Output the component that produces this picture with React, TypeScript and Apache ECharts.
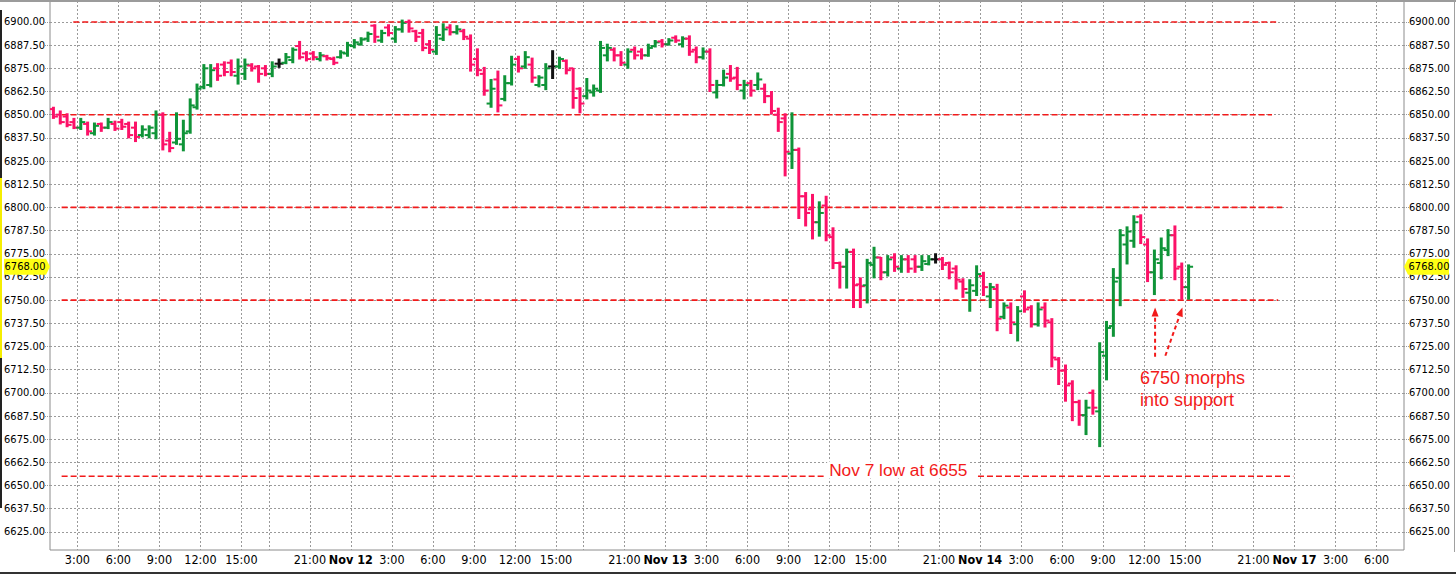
import React, { useEffect, useRef } from 'react';
import * as echarts from 'echarts';

// ---------- DATA: 30-minute OHLC bars, [open, high, low, close] ----------
// Session 1: Nov 11 01:00 – 16:30
const barsNov11 = [
  [6853, 6854, 6848, 6849], [6850, 6852, 6845, 6846], [6849, 6850.5, 6843.5, 6844.5], [6846, 6848, 6842.5, 6843],
  [6843, 6848, 6842, 6846], [6845, 6846, 6839, 6841], [6840, 6845.5, 6839, 6844], [6845, 6845.5, 6841, 6843],
  [6843, 6848, 6842.5, 6846], [6845, 6846.5, 6841.5, 6842.5], [6846, 6847.5, 6842, 6843.5], [6845, 6846, 6837.5, 6839],
  [6843, 6846, 6835.5, 6838], [6839, 6844, 6838, 6842], [6839, 6844, 6837.5, 6843], [6840, 6852, 6837, 6850],
  [6850, 6851, 6831, 6834], [6836, 6840.5, 6830, 6832], [6835, 6851, 6834, 6837], [6834, 6847, 6830.5, 6840],
  [6841, 6858.5, 6840, 6855], [6854, 6866.5, 6853, 6864], [6865, 6877, 6864, 6875], [6866, 6877, 6865, 6874],
  [6875, 6877.5, 6868.5, 6871], [6877, 6878.5, 6871, 6873], [6878, 6879.5, 6871, 6873], [6871, 6880, 6866.5, 6876],
  [6872, 6880, 6869, 6877], [6876.5, 6877.5, 6873.5, 6875], [6876, 6876.5, 6867.5, 6872], [6875, 6876.5, 6871, 6872],
];
// Session 2: Nov 11 18:00 – Nov 12 16:30
const barsNov12 = [
  [6872, 6878.5, 6870.5, 6876], [6877.5, 6880, 6875.5, 6877.5], [6878, 6883, 6877.5, 6881], [6879.5, 6886, 6878, 6885],
  [6887, 6889.5, 6880, 6881], [6883, 6884, 6879, 6880], [6883, 6884, 6879.5, 6881], [6880, 6883.5, 6879, 6882],
  [6881.5, 6882, 6879.5, 6880.5], [6880, 6881, 6877, 6878], [6881, 6884.5, 6880.5, 6883.5], [6883, 6889, 6881.5, 6887.5],
  [6887, 6890.5, 6886, 6889], [6888, 6891.5, 6887.5, 6890.5], [6891, 6894.5, 6889.5, 6893.5], [6898, 6898.5, 6889, 6892],
  [6890, 6895.5, 6889, 6894], [6897, 6898.5, 6892.5, 6894], [6891, 6897.5, 6889, 6896], [6896, 6901, 6894.5, 6899.5],
  [6900, 6901, 6894.5, 6896.5], [6895, 6895.5, 6889.5, 6892], [6894, 6896, 6884.5, 6886], [6888, 6890, 6883, 6885],
  [6884, 6897.5, 6882.5, 6893], [6891, 6899, 6890, 6896], [6897, 6898.5, 6893, 6894.5], [6894.5, 6898, 6893.5, 6896],
  [6895, 6896, 6890.5, 6892], [6891, 6893, 6873.5, 6877], [6880, 6885.5, 6871, 6874], [6872, 6875.5, 6860.5, 6863],
  [6856, 6869, 6854, 6864], [6869, 6873.5, 6851.5, 6855], [6858.5, 6871, 6857.5, 6867], [6867, 6881.5, 6866, 6877],
  [6880, 6881.5, 6873, 6875], [6876, 6884, 6875, 6881], [6877, 6880.5, 6867.5, 6870], [6866, 6871, 6865, 6870],
  [6866, 6877.5, 6863.5, 6875], [6876, 6884.5, 6869.5, 6876], [6876, 6881, 6875, 6880], [6879, 6879.5, 6872, 6874],
  [6875, 6875, 6853.5, 6859], [6864, 6864.5, 6851, 6856],
];
// Session 3: Nov 12 18:00 – Nov 13 16:30
const barsNov13 = [
  [6860, 6869.5, 6858.5, 6863], [6862, 6866, 6860, 6864], [6863, 6889.5, 6862, 6886], [6882, 6888, 6879, 6886],
  [6885, 6886, 6879, 6882], [6882, 6884, 6876.5, 6878], [6877, 6885.5, 6875, 6884], [6885, 6886.5, 6880, 6882],
  [6884, 6885.5, 6880, 6882], [6882, 6888, 6881.5, 6886], [6887, 6890, 6886.5, 6889], [6889.5, 6890.5, 6886.5, 6888],
  [6888, 6891, 6887.5, 6890], [6891.5, 6892.5, 6889, 6890], [6888, 6892, 6886.5, 6891], [6891, 6892.5, 6882, 6884],
  [6885, 6886.5, 6878, 6881], [6881, 6886, 6880, 6884], [6884, 6885.5, 6862.5, 6866], [6862, 6868.5, 6859, 6866],
  [6866, 6874, 6865.5, 6870], [6872, 6876.5, 6868, 6869.5], [6870, 6875.5, 6863.5, 6866], [6863, 6868.5, 6858.5, 6866],
  [6867, 6868.5, 6860, 6863], [6866, 6872.5, 6863.5, 6869], [6864, 6866.5, 6856.5, 6860], [6860, 6862.5, 6850.5, 6852],
  [6850, 6853.5, 6841, 6846], [6848, 6850.5, 6817, 6830], [6829, 6851, 6821, 6831], [6831, 6832, 6794, 6806],
  [6806, 6808, 6790, 6797], [6799, 6807, 6783, 6792], [6792, 6803, 6784.5, 6797], [6801, 6806, 6782, 6785],
  [6784, 6789, 6767, 6770], [6770, 6770.5, 6756.5, 6768], [6768, 6777.5, 6756.5, 6776], [6776, 6777.5, 6746, 6758],
  [6758.5, 6762, 6746, 6757.5], [6758, 6772, 6748.5, 6770], [6769, 6778.5, 6762, 6773], [6773, 6773, 6761, 6765],
  [6765, 6774, 6763, 6772], [6773, 6775, 6765.5, 6768],
];
// Session 4: Nov 13 18:00 – Nov 14 15:00
const barsNov14 = [
  [6767, 6774, 6765, 6772], [6772, 6774, 6765, 6767], [6772, 6774, 6765, 6768], [6768, 6774, 6766, 6771],
  [6769.5, 6774, 6769, 6772], [6772, 6775, 6770, 6772], [6772, 6773, 6766.5, 6769], [6770, 6770.5, 6761.5, 6765],
  [6767, 6768.5, 6756, 6761], [6760, 6761.5, 6751.5, 6756], [6754, 6761, 6744, 6758], [6755, 6768.5, 6752.5, 6764],
  [6763, 6765, 6752.5, 6757], [6752, 6759, 6746, 6757], [6756, 6758.5, 6733.5, 6740], [6741, 6748.5, 6740, 6747],
  [6746, 6748.5, 6732, 6738], [6737, 6746.5, 6728, 6744], [6752, 6755, 6743.5, 6745], [6746, 6747, 6735.5, 6737],
  [6737, 6748.5, 6736, 6745], [6746, 6748.5, 6735.5, 6739], [6738, 6740, 6714, 6719], [6718, 6719, 6704.5, 6712],
  [6712, 6715, 6695.5, 6704], [6705, 6706.5, 6685, 6695], [6695, 6696, 6682.5, 6688], [6688, 6696, 6677.5, 6692],
  [6700, 6701.5, 6688.5, 6692], [6690, 6727, 6671, 6722], [6720, 6738.5, 6707, 6735], [6736, 6767, 6730.5, 6760],
  [6762, 6788, 6747, 6785], [6780, 6789.5, 6769.5, 6787], [6782, 6795.5, 6778.5, 6792], [6795, 6796, 6780.5, 6784],
  [6780, 6783, 6760, 6765], [6765, 6777, 6753, 6772], [6770, 6783.5, 6761.5, 6778], [6777, 6788, 6774, 6785],
  [6785, 6790, 6761, 6767], [6768, 6770, 6750.5, 6757], [6757, 6769, 6750.5, 6768],
];

const sessionDates = ['Nov 11', 'Nov 12', 'Nov 13', 'Nov 14', 'Nov 17'];
const priceTicks = [
  6625, 6637.5, 6650, 6662.5, 6675, 6687.5, 6700, 6712.5, 6725, 6737.5, 6750, 6762.5,
  6775, 6787.5, 6800, 6812.5, 6825, 6837.5, 6850, 6862.5, 6875, 6887.5, 6900,
];
const lastPrice = 6768;
const levelPrices = [6900, 6850, 6800, 6750, 6655];
const annotationTexts = ['Nov 7 low at 6655', '6750 morphs', 'into support'];

// ---------- layout / style ----------
const SLOTS_PER_SESSION = 46; // 18:00 -> 17:00, 30-minute slots
const FIRST_SLOT = 14; // first visible slot = 01:00 of the first session
const AXIS_MIN = 0;
const AXIS_MAX = 198;
const Y_MIN = 6615.25;
const Y_MAX = 6911.3;
const GREEN = '#0f9438';
const PINK = '#fc1268';
const RED = '#f21a1a';
const GRID_GREY = '#9a9a9a';
const AXIS_FONT = '"DejaVu Sans Condensed", "DejaVu Sans", sans-serif';
const TIME_FONT = '"Liberation Sans Narrow", "DejaVu Sans Condensed", sans-serif';
const NOTE_FONT = '"Liberation Sans", Arial, sans-serif';

// level line extents along the slot axis (level index, from, to); 6655 has two pieces
const levelExtents: [number, number, number][] = [
  [0, 3.4, 179.3],
  [1, 1.7, 178.7],
  [2, 1.7, 180.2],
  [3, 1.7, 179.6],
  [4, 1.7, 113.3],
  [4, 135.7, 181.8],
];
// text anchors [slot, price, align]
const textAnchors: [number, number, string][] = [
  [124.05, 6658.4, 'center'],
  [159.4, 6707.8, 'left'],
  [159.4, 6696.1, 'left'],
];
// arrows [x1, y1, x2, y2] in axis units
const arrows = [
  [161.6, 6719.5, 161.6, 6746],
  [163.1, 6720, 165.6, 6746],
];

export default function App() {
  const ref = useRef<HTMLDivElement>(null);

  useEffect(() => {
    if (!ref.current) return;
    const chart = echarts.init(ref.current, null, { renderer: 'svg' });

    const bars = [...barsNov11, ...barsNov12, ...barsNov13, ...barsNov14].map((b, i) => [
      i + 0.5, b[0], b[1], b[2], b[3],
    ]);

    const tickSlots: number[] = [];
    const labelSlots: number[] = [];
    const labelText = new Map<number, string>();
    sessionDates.forEach((date, d) => {
      for (let s = 0; s < SLOTS_PER_SESSION; s += 6) {
        const v = d * SLOTS_PER_SESSION + s - FIRST_SLOT;
        if (v < AXIS_MIN || v > AXIS_MAX) continue;
        tickSlots.push(v);
        const hour = (18 + s / 2) % 24;
        if (hour === 18) continue;
        labelSlots.push(v);
        labelText.set(v, hour === 0 ? `{d|${date}}` : `${hour}:00`);
      }
    });

    const levelData = levelExtents.map(([li, from, to]) => [from, to, levelPrices[li]]);
    const textData = textAnchors.map(([x, y]) => [x, y]);

    const yAxisCommon = {
      type: 'value',
      min: Y_MIN,
      max: Y_MAX,
      axisLine: { show: false },
      axisTick: {
        show: true,
        length: 5,
        customValues: priceTicks,
        lineStyle: { color: GRID_GREY, type: [1, 1] },
      },
    };
    const yLabel = {
      customValues: priceTicks,
      margin: 5,
      fontFamily: AXIS_FONT,
      fontSize: 11,
      color: '#000',
      formatter: (v: number) => v.toFixed(2),
    };

    const option: any = {
      animation: false,
      backgroundColor: '#ffffff',
      grid: {
        left: 50,
        top: 1,
        width: 1354,
        height: 549,
        show: true,
        borderColor: '#8c8c8c',
        borderWidth: 1,
        backgroundColor: '#ffffff',
      },
      xAxis: {
        type: 'value',
        min: AXIS_MIN,
        max: AXIS_MAX,
        axisLine: { show: false },
        axisTick: { show: false, customValues: tickSlots },
        axisLabel: {
          customValues: labelSlots,
          margin: 3,
          fontFamily: TIME_FONT,
          fontSize: 12.5,
          color: '#000',
          formatter: (v: number) => labelText.get(Math.round(v)) ?? '',
          rich: {
            d: { fontFamily: TIME_FONT, fontSize: 12.5, fontWeight: 'bold', color: '#000' },
          },
        },
        splitLine: { show: true, lineStyle: { color: GRID_GREY, width: 1, type: [2, 2] } },
      },
      yAxis: [
        {
          ...yAxisCommon,
          position: 'left',
          axisLabel: yLabel,
          splitLine: { show: true, lineStyle: { color: GRID_GREY, width: 1, type: [2, 2] } },
        },
        {
          ...yAxisCommon,
          position: 'right',
          axisLabel: yLabel,
          splitLine: { show: false },
        },
      ],
      series: [
        {
          type: 'custom',
          name: 'levels',
          data: levelData,
          encode: { x: [0, 1], y: 2 },
          clip: false,
          z: 3,
          silent: true,
          renderItem: (_p: any, api: any) => {
            const a = api.coord([api.value(0), api.value(2)]);
            const b = api.coord([api.value(1), api.value(2)]);
            return {
              type: 'line',
              shape: { x1: a[0], y1: a[1], x2: b[0], y2: b[1] },
              style: { stroke: RED, lineWidth: 1.6, lineDash: [6, 3] },
            };
          },
        },
        {
          type: 'custom',
          name: 'ES',
          data: bars,
          encode: { x: 0, y: [1, 2, 3, 4] },
          clip: true,
          z: 4,
          renderItem: (_p: any, api: any) => {
            const x = api.value(0);
            const o = api.value(1);
            const h = api.value(2);
            const l = api.value(3);
            const c = api.value(4);
            const pH = api.coord([x, h]);
            const pL = api.coord([x, l]);
            const pO = api.coord([x, o]);
            const pC = api.coord([x, c]);
            const color = c > o ? GREEN : c < o ? PINK : '#111111';
            return {
              type: 'group',
              children: [
                {
                  type: 'line',
                  shape: { x1: pH[0], y1: pH[1] - 0.5, x2: pL[0], y2: pL[1] + 0.5 },
                  style: { stroke: color, lineWidth: 3 },
                },
                {
                  type: 'line',
                  shape: { x1: pO[0] - 4.5, y1: pO[1], x2: pO[0], y2: pO[1] },
                  style: { stroke: color, lineWidth: 2 },
                },
                {
                  type: 'line',
                  shape: { x1: pC[0], y1: pC[1], x2: pC[0] + 4.5, y2: pC[1] },
                  style: { stroke: color, lineWidth: 2 },
                },
              ],
            };
          },
        },
        {
          type: 'custom',
          name: 'arrows',
          data: arrows,
          encode: { x: [0, 2], y: [1, 3] },
          clip: false,
          z: 5,
          silent: true,
          renderItem: (_p: any, api: any) => {
            const s = api.coord([api.value(0), api.value(1)]);
            const t = api.coord([api.value(2), api.value(3)]);
            const dx = t[0] - s[0];
            const dy = t[1] - s[1];
            const len = Math.sqrt(dx * dx + dy * dy);
            const ux = dx / len;
            const uy = dy / len;
            const bx = t[0] - ux * 9;
            const by = t[1] - uy * 9;
            const nx = -uy * 3.5;
            const ny = ux * 3.5;
            return {
              type: 'group',
              children: [
                {
                  type: 'line',
                  shape: { x1: s[0], y1: s[1], x2: bx, y2: by },
                  style: { stroke: RED, lineWidth: 2, lineDash: [4, 3] },
                },
                {
                  type: 'polygon',
                  shape: { points: [[t[0], t[1]], [bx + nx, by + ny], [bx - nx, by - ny]] },
                  style: { fill: RED },
                },
              ],
            };
          },
        },
        {
          type: 'custom',
          name: 'notes',
          data: textData,
          encode: { x: 0, y: 1 },
          clip: false,
          z: 6,
          silent: true,
          renderItem: (p: any, api: any) => {
            const pt = api.coord([api.value(0), api.value(1)]);
            const i = p.dataIndex;
            const align = textAnchors[i][2];
            return {
              type: 'text',
              x: pt[0],
              y: pt[1],
              style: {
                text: annotationTexts[i],
                fill: RED,
                fontFamily: NOTE_FONT,
                fontSize: i === 0 ? 17.3 : 18,
                align,
                verticalAlign: 'middle',
                backgroundColor: i === 0 ? '#ffffff' : undefined,
                padding: i === 0 ? [0, 2] : 0,
              },
            };
          },
        },
        {
          type: 'custom',
          name: 'lastPrice',
          data: [[AXIS_MIN, lastPrice]],
          encode: { x: 0, y: 1 },
          clip: false,
          z: 20,
          silent: true,
          renderItem: (p: any, api: any) => {
            const cs = p.coordSys;
            const y = api.coord([api.value(0), api.value(1)])[1];
            const L = cs.x;
            const R = cs.x + cs.width;
            const label = (api.value(1) as number).toFixed(2);
            const textStyle = {
              text: label,
              fill: '#000',
              fontFamily: AXIS_FONT,
              fontSize: 11,
              align: 'center',
              verticalAlign: 'middle',
            };
            return {
              type: 'group',
              children: [
                {
                  type: 'polygon',
                  shape: { points: [[L, y], [L - 4, y - 8], [L - 46, y - 8], [L - 46, y + 8], [L - 4, y + 8]] },
                  style: { fill: '#ffff14' },
                },
                { type: 'text', x: L - 25, y: y, style: textStyle },
                {
                  type: 'polygon',
                  shape: { points: [[R, y], [R + 4, y - 8], [R + 45, y - 8], [R + 45, y + 8], [R + 4, y + 8]] },
                  style: { fill: '#ffff14' },
                },
                { type: 'text', x: R + 25, y: y, style: textStyle },
              ],
            };
          },
        },
      ],
      graphic: [
        { type: 'rect', shape: { x: 0, y: 0, width: 1456, height: 2 }, style: { fill: '#9b9b9b' }, z: 50 },
        { type: 'rect', shape: { x: 0, y: 572, width: 1456, height: 2 }, style: { fill: '#333333' }, z: 50 },
        { type: 'rect', shape: { x: 0, y: 10, width: 2, height: 168 }, style: { fill: '#222222' }, z: 50 },
        { type: 'rect', shape: { x: 0, y: 178, width: 2, height: 180 }, style: { fill: '#f5ee00' }, z: 50 },
        { type: 'rect', shape: { x: 0, y: 358, width: 2, height: 150 }, style: { fill: '#222222' }, z: 50 },
        { type: 'rect', shape: { x: 1454, y: 0, width: 1, height: 552 }, style: { fill: '#a0a0a0' }, z: 50 },
      ],
    };

    chart.setOption(option);
    return () => chart.dispose();
  }, []);

  return (
    <div
      ref={ref}
      style={{ position: 'absolute', left: 0, top: 0, width: 1456, height: 574, background: '#fff' }}
    />
  );
}
